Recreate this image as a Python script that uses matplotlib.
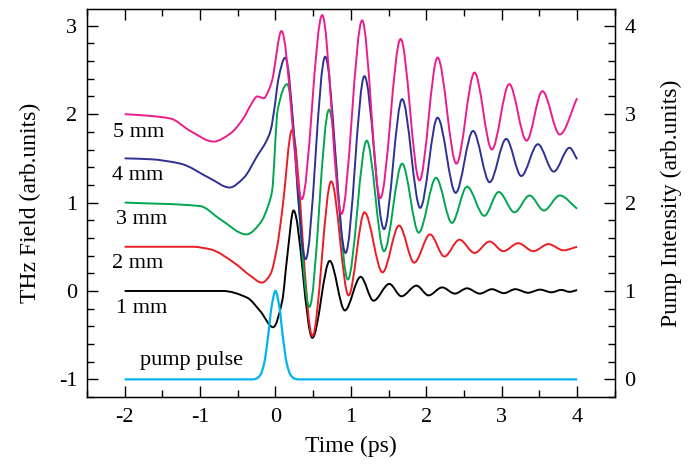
import numpy as np
import matplotlib
matplotlib.use("Agg")
import matplotlib.pyplot as plt
from matplotlib.path import Path
from matplotlib.patches import PathPatch
from matplotlib.ticker import MultipleLocator

plt.rcParams['font.family'] = ['Liberation Serif', 'DejaVu Serif']
plt.rcParams['axes.unicode_minus'] = False

# values (time in ps, field in arb. units, offsets included)
t_1mm = [-2.0, -0.7, -0.375, -0.2, -0.03, 0.09, 0.155, 0.24, 0.49, 0.72, 0.92, 1.13, 1.30,
         1.51, 1.67, 1.87, 2.03, 2.21, 2.38, 2.54, 2.71, 2.87, 3.03, 3.18, 3.35, 3.51, 3.66,
         3.79, 3.90, 4.0]
y_1mm = [0.0, 0.0, -0.076, -0.23, -0.41, -0.11, 0.38, 0.91, -0.53, 0.34, -0.22, 0.16, -0.11,
         0.08, -0.06, 0.06, -0.05, 0.04, -0.03, 0.03, -0.03, 0.02, -0.025, 0.02, -0.02, 0.015,
         -0.015, 0.012, -0.01, 0.01]

t_2mm = [-2.0, -1.1, -0.86, -0.55, -0.33, -0.18, -0.066, 0.02, 0.09, 0.22, 0.49, 0.74, 0.97,
         1.18, 1.42, 1.64, 1.84, 2.05, 2.24, 2.44, 2.64, 2.84, 3.02, 3.22, 3.42, 3.62, 3.82, 4.0]
y_2mm = [0.5, 0.5, 0.47, 0.32, 0.17, 0.094, 0.19, 0.49, 0.91, 1.82, -0.51, 1.24, -0.05,
         0.89, 0.21, 0.74, 0.32, 0.64, 0.39, 0.58, 0.43, 0.56, 0.45, 0.54, 0.45, 0.53, 0.46, 0.50]

t_3mm = [-2.0, -1.0, -0.73, -0.385, -0.2, -0.09, -0.045, 0.03, 0.155, 0.45, 0.71, 0.96, 1.21,
         1.44, 1.68, 1.90, 2.13, 2.34, 2.54, 2.77, 2.96, 3.17, 3.37, 3.56, 3.77, 4.0]
y_3mm = [1.0, 0.96, 0.81, 0.64, 0.77, 0.98, 1.13, 2.05, 2.34, -0.18, 2.05, 0.13, 1.70,
         0.45, 1.44, 0.66, 1.28, 0.77, 1.18, 0.85, 1.12, 0.89, 1.08, 0.91, 1.08, 0.93]

t_4mm = [-2.0, -1.66, -1.26, -0.86, -0.61, -0.42, -0.24, -0.13, -0.066, 0.0, 0.035, 0.13,
         0.40, 0.66, 0.93, 1.18, 1.44, 1.68, 1.92, 2.15, 2.39, 2.62, 2.84, 3.06, 3.26, 3.48,
         3.69, 3.90, 4.0]
y_4mm = [1.5, 1.49, 1.44, 1.27, 1.17, 1.28, 1.53, 1.68, 1.81, 2.15, 2.38, 2.64,
         0.36, 2.65, 0.43, 2.43, 0.70, 2.17, 0.94, 1.96, 1.11, 1.81, 1.23, 1.72, 1.30, 1.66,
         1.35, 1.62, 1.49]

t_5mm = [-2.0, -1.66, -1.39, -1.13, -0.82, -0.60, -0.42, -0.33, -0.24, -0.155, -0.09, -0.045,
         0.08, 0.35, 0.62, 0.875, 1.15, 1.39, 1.66, 1.91, 2.15, 2.40, 2.64, 2.87, 3.10, 3.33,
         3.54, 3.77, 4.0]
y_5mm = [2.0, 1.98, 1.95, 1.81, 1.69, 1.78, 1.96, 2.10, 2.20, 2.18, 2.27, 2.38,
         2.94, 1.04, 3.12, 0.87, 3.06, 1.05, 2.85, 1.25, 2.64, 1.44, 2.47, 1.60, 2.34, 1.70,
         2.26, 1.77, 2.18]

t_pump = [-2.0, -0.3, -0.25, -0.2, -0.15, -0.1, -0.05, 0.0, 0.05, 0.1, 0.15, 0.2, 0.25, 0.3, 4.0]
y_pump = [0.0, 0.0, 0.01, 0.05, 0.18, 0.47, 0.83, 1.0, 0.83, 0.47, 0.18, 0.05, 0.01, 0.0, 0.0]

labels = ['1 mm', '2 mm', '3 mm', '4 mm', '5 mm']
label_pos = [(-2.12, -0.246), (-2.17, 0.257), (-2.12, 0.756), (-2.17, 1.255), (-2.16, 1.746)]
colors = ['black', '#ED1C24', '#00A651', '#2E3192', '#EC1C8C']
pump_color = '#00B4EE'


def smooth_path(t, y):
    # monotone cubic segments drawn as bezier curves
    t = np.asarray(t, float)
    y = np.asarray(y, float)
    h = np.diff(t)
    d = np.diff(y) / h
    m = np.zeros_like(y)
    for k in range(1, len(y) - 1):
        if d[k - 1] * d[k] > 0:
            w1 = 2 * h[k] + h[k - 1]
            w2 = h[k] + 2 * h[k - 1]
            m[k] = (w1 + w2) / (w1 / d[k - 1] + w2 / d[k])
    m[0] = 0.0 if d[0] == 0 else d[0]
    m[-1] = d[-1]
    verts = [(t[0], y[0])]
    codes = [Path.MOVETO]
    for k in range(len(h)):
        verts += [(t[k] + h[k] / 3, y[k] + m[k] * h[k] / 3),
                  (t[k + 1] - h[k] / 3, y[k + 1] - m[k + 1] * h[k] / 3),
                  (t[k + 1], y[k + 1])]
        codes += [Path.CURVE4] * 3
    return Path(verts, codes)


fig = plt.figure(figsize=(6.9, 4.71), dpi=100)
ax = fig.add_axes([0.126, 0.157, 0.765, 0.824])
ax2 = ax.twinx()

curves = [(t_1mm, y_1mm), (t_2mm, y_2mm), (t_3mm, y_3mm), (t_4mm, y_4mm), (t_5mm, y_5mm)]
for (tt, yy), c in zip(curves, colors):
    ax.add_patch(PathPatch(smooth_path(tt, yy), facecolor='none', edgecolor=c, lw=1.4))
ax2.add_patch(PathPatch(smooth_path(t_pump, y_pump), facecolor='none', edgecolor=pump_color, lw=1.6))

for lab, (x, y) in zip(labels, label_pos):
    ax.text(x, y, lab, fontsize=16, va='baseline', ha='left')
ax.text(-1.79, -0.84, 'pump pulse', fontsize=16, va='baseline', ha='left')

ax.set_xlim(-2.5, 4.5)
ax.set_ylim(-1.2, 3.19)
ax2.set_ylim(-0.2, 4.19)

ax.xaxis.set_major_locator(MultipleLocator(1))
ax.xaxis.set_minor_locator(MultipleLocator(0.5))
ax.yaxis.set_major_locator(MultipleLocator(1))
ax.yaxis.set_minor_locator(MultipleLocator(0.2))
ax2.yaxis.set_major_locator(MultipleLocator(1))
ax2.yaxis.set_minor_locator(MultipleLocator(0.2))

ax.tick_params(axis='x', which='both', direction='in', top=True, labelsize=16, pad=8)
ax.tick_params(axis='y', which='both', direction='in', right=False, labelsize=16, pad=7)
ax.tick_params(which='major', length=8, width=1)
ax.tick_params(which='minor', length=5, width=1)
ax2.tick_params(axis='y', which='both', direction='in', labelsize=16, pad=7)
ax2.tick_params(which='major', length=8, width=1)
ax2.tick_params(which='minor', length=5, width=1)

ax.set_xlabel('Time (ps)', fontsize=17, labelpad=6)
ax.set_ylabel('THz Field (arb.units)', fontsize=17, labelpad=13)
ax2.set_ylabel('Pump Intensity (arb.units)', fontsize=17, labelpad=18)

for sp in ax.spines.values():
    sp.set_linewidth(1.0)

fig.savefig('out.png', dpi=100)
